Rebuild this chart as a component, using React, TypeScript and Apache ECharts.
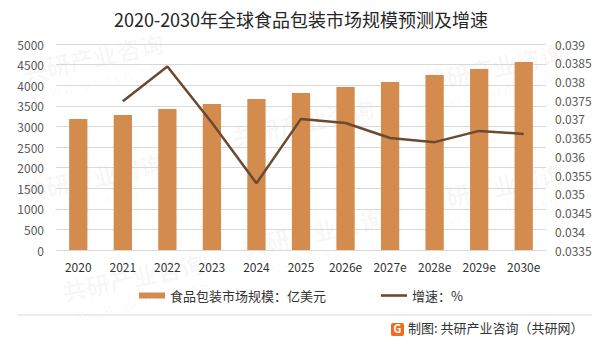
import React, { useEffect, useRef } from "react";
import * as echarts from "echarts";

const title = "2020-2030年全球食品包装市场规模预测及增速";
const categories = ["2020", "2021", "2022", "2023", "2024", "2025", "2026e", "2027e", "2028e", "2029e", "2030e"];
const marketSize = [3180, 3277, 3422, 3544, 3665, 3811, 3956, 4078, 4248, 4393, 4563];
const growth = [null, 0.03747, 0.0384, 0.0369, 0.03528, 0.037, 0.03689, 0.03649, 0.03638, 0.03668, 0.0366];
const barName = "食品包装市场规模：亿美元";
const lineName = "增速：%";
const source = "制图: 共研产业咨询（共研网）";

const watermarks = [
  { x: 20, y: 60 }, { x: 230, y: 125 }, { x: 420, y: 70 }, { x: 20, y: 180 },
  { x: 240, y: 235 }, { x: 420, y: 190 }, { x: 60, y: 280 },
];

export default function App() {
  const ref = useRef<HTMLDivElement>(null);
  useEffect(() => {
    if (!ref.current) return;
    const chart = echarts.init(ref.current, undefined, { renderer: "svg" });
    const font = "'Noto Sans CJK SC', 'Noto Sans', sans-serif";
    const wmGraphics: any[] = [];
    watermarks.forEach((w) => {
      wmGraphics.push({
        type: "group",
        x: w.x,
        y: w.y,
        rotation: (12 * Math.PI) / 180,
        silent: true,
        z: -10,
        children: [
          { type: "text", x: 0, y: 0, style: { text: "共研产业咨询", font: `bold 24px ${font}`, fill: "rgba(0,0,0,0.04)" } },
          { type: "text", x: 10, y: 30, style: { text: "w w w . g o n y n . c o m", font: `13px ${font}`, fill: "rgba(0,0,0,0.04)" } },
        ],
      });
    });
    chart.setOption({
      animation: false,
      backgroundColor: "#ffffff",
      title: {
        text: title,
        left: "center",
        top: 5,
        textStyle: { fontFamily: font, fontSize: 18, fontWeight: "normal", color: "#262626" },
      },
      legend: {
        bottom: 38,
        left: "center",
        itemGap: 55,
        itemWidth: 26,
        itemHeight: 6,
        textStyle: { fontFamily: font, fontSize: 13, color: "#333" },
        data: [
          { name: barName, icon: "rect" },
          { name: lineName, icon: "path://M0,0 L30,0 L30,3 L0,3 Z", itemStyle: { color: "#6B4A2F" } },
        ],
      },
      grid: { left: 56, right: 56, top: 44, bottom: 95 },
      xAxis: {
        type: "category",
        data: categories,
        axisLine: { lineStyle: { color: "#d9d9d9" } },
        axisTick: { show: false },
        axisLabel: { color: "#333", fontFamily: font, fontSize: 12, margin: 10 },
      },
      yAxis: [
        {
          type: "value",
          min: 0,
          max: 5000,
          interval: 500,
          axisLine: { show: false },
          axisTick: { show: false },
          splitLine: { lineStyle: { color: "#d9d9d9" } },
          axisLabel: {
            color: "#595959",
            fontFamily: font,
            fontSize: 12,
            margin: 12,
            formatter: (v: number) => String(Math.round(v)),
          },
        },
        {
          type: "value",
          min: 0.0335,
          max: 0.039,
          interval: 0.0005,
          axisLine: { show: false },
          axisTick: { show: false },
          splitLine: { show: false },
          axisLabel: {
            color: "#595959",
            fontFamily: font,
            fontSize: 12,
            margin: 9,
            formatter: (v: number) => String(parseFloat(v.toFixed(5))),
          },
        },
      ],
      series: [
        {
          name: barName,
          type: "bar",
          data: marketSize,
          barWidth: "41%",
          itemStyle: { color: "#D38B4E" },
        },
        {
          name: lineName,
          type: "line",
          yAxisIndex: 1,
          data: growth,
          symbol: "none",
          lineStyle: { color: "#6B4A2F", width: 2.5 },
          itemStyle: { color: "#6B4A2F" },
        },
      ],
      graphic: [
        ...wmGraphics,
        { type: "line", shape: { x1: 17, y1: 315, x2: 592, y2: 315 }, style: { stroke: "#d9d9d9", lineWidth: 1 } },
        { type: "rect", shape: { x: 391, y: 323, width: 13, height: 13, r: 2 }, style: { fill: "#F26B1D" } },
        { type: "text", x: 393.5, y: 322.5, style: { text: "G", font: `bold 11px ${font}`, fill: "#ffffff" } },
        { type: "text", x: 408, y: 321, style: { text: source, font: `13px ${font}`, fill: "#333" } },
      ],
    });
    return () => chart.dispose();
  }, []);
  return <div ref={ref} style={{ width: 602, height: 345, margin: -8 }} />;
}
